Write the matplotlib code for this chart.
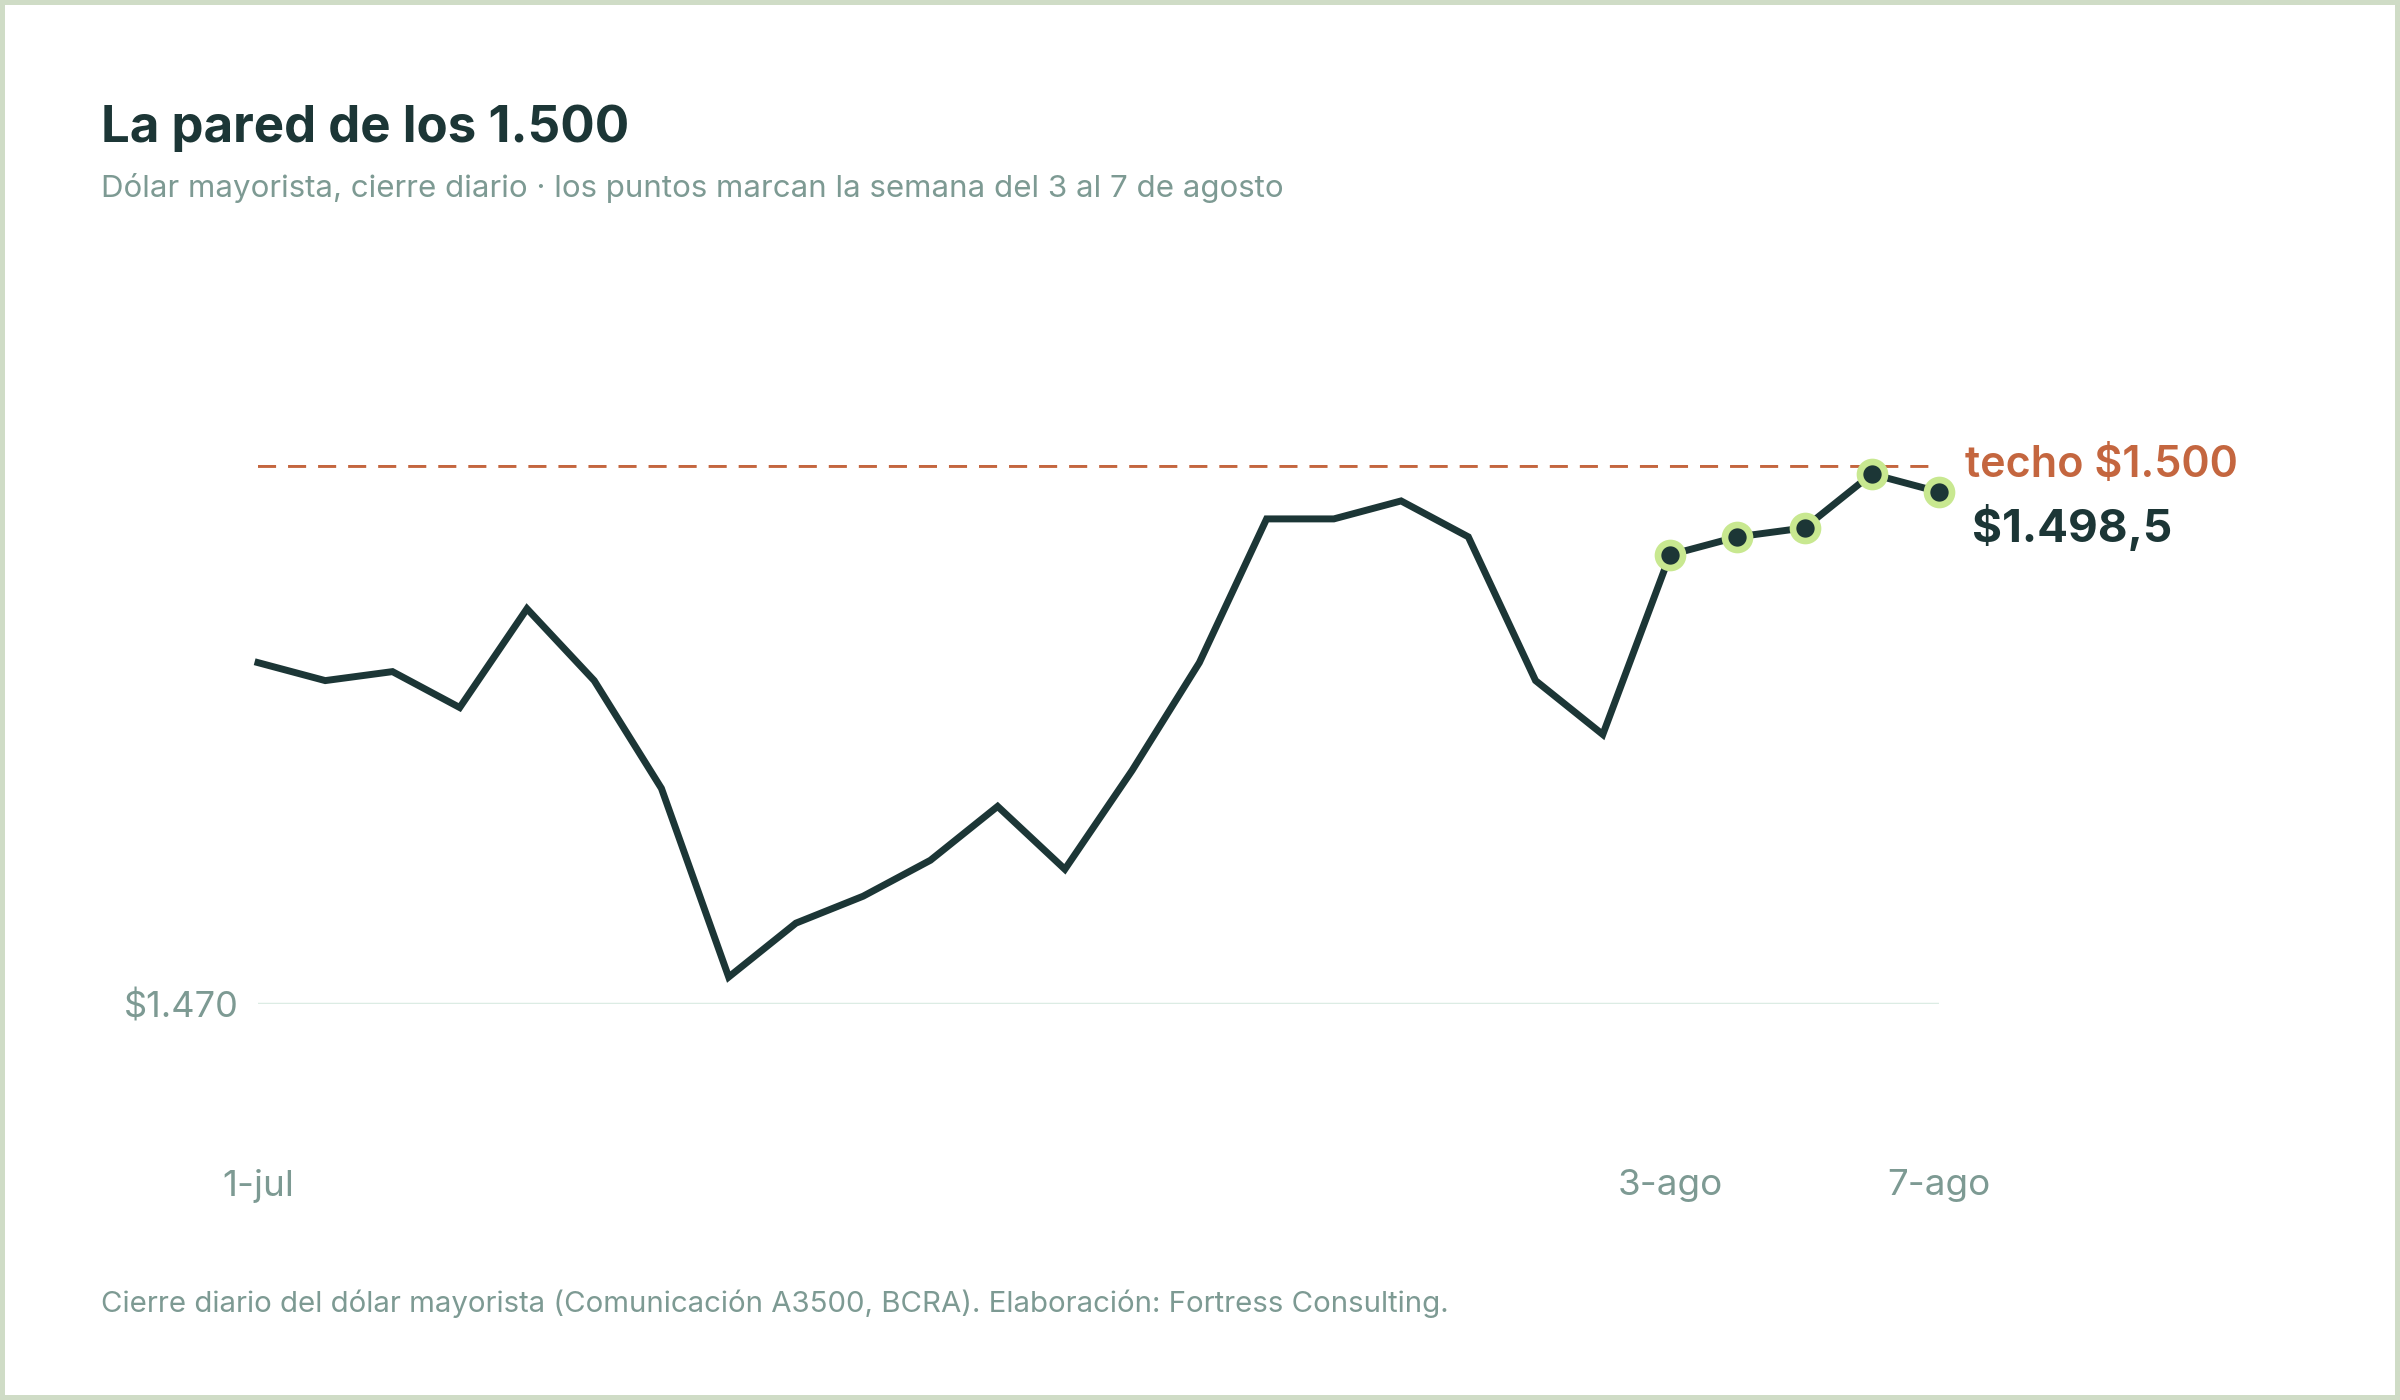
import matplotlib
matplotlib.use("Agg")
import matplotlib.pyplot as plt
import numpy as np

# daily close of the wholesale dollar, 1-jul to 7-ago (business days)
closes = [1489.0, 1488.0, 1488.5, 1486.5, 1492.0, 1488.0, 1482.0, 1471.5, 1474.5,
          1476.0, 1478.0, 1481.0, 1477.5, 1483.0, 1489.0, 1497.0, 1497.0, 1498.0,
          1496.0, 1488.0, 1485.0, 1495.0, 1496.0, 1496.5, 1499.5, 1498.5]
tick_idx = [0, 21, 25]
tick_labels = ["1-jul", "3-ago", "7-ago"]
week_start = 21          # week of 3 to 7 august
ceiling = 1500
floor_tick = 1470

DARK = "#1c3636"
GREY = "#7d9a93"
ORANGE = "#c4663f"
LIME = "#c8e890"
GRID = "#dcece4"

plt.rcParams["font.family"] = ["Inter", "DejaVu Sans"]

fig = plt.figure(figsize=(24, 14), dpi=100)
fig.patch.set_facecolor("white")
fig.patch.set_edgecolor("#cfdcc6")
fig.patch.set_linewidth(6)

ax = fig.add_axes([258 / 2400, 396 / 1400, 1681 / 2400, 539 / 1400])
x = np.arange(len(closes))

ax.axhline(floor_tick, color=GRID, lw=2.5, zorder=1)
ax.axhline(ceiling, color=ORANGE, lw=4.2, dashes=(3.1, 2.05), zorder=2)

ax.plot(x, closes, color=DARK, lw=5, solid_joinstyle="miter", zorder=3, clip_on=False)
ax.plot(x[week_start:], closes[week_start:], ls="none", marker="o", ms=18,
        mfc=DARK, mec=LIME, mew=4.8, zorder=4, clip_on=False)

ax.set_xlim(x[0], x[-1])
ax.set_ylim(floor_tick, ceiling)
for s in ax.spines.values():
    s.set_visible(False)

ax.set_yticks([floor_tick], ["$1.470"])
ax.set_xticks(tick_idx, tick_labels)
ax.tick_params(axis="y", length=0, pad=14, labelsize=26, labelcolor=GREY)
ax.tick_params(axis="x", length=0, pad=119, labelsize=26.5, labelcolor=GREY)

ax.annotate("techo $1.500", xy=(x[-1], ceiling), xytext=(18.7, -8.4),
            textcoords="offset points", color=ORANGE, fontsize=31,
            fontweight="semibold", va="baseline", ha="left")
ax.annotate("$1.498,5", xy=(x[-1], closes[-1]), xytext=(23.8, -36),
            textcoords="offset points", color=DARK, fontsize=33,
            fontweight="bold", va="baseline", ha="left")

fig.text(101 / 2400, 1 - 141.7 / 1400, "La pared de los 1.500", fontsize=36.7,
         fontweight="bold", color=DARK, va="baseline")
fig.text(101 / 2400, 1 - 196.7 / 1400,
         "Dólar mayorista, cierre diario · los puntos marcan la semana del 3 al 7 de agosto",
         fontsize=22.5, color=GREY, va="baseline")
fig.text(101 / 2400, 1 - 1311.7 / 1400,
         "Cierre diario del dólar mayorista (Comunicación A3500, BCRA). Elaboración: Fortress Consulting.",
         fontsize=21.2, color=GREY, va="baseline")

fig.savefig("out.png", dpi=100, facecolor=fig.get_facecolor(), edgecolor=fig.get_edgecolor())
